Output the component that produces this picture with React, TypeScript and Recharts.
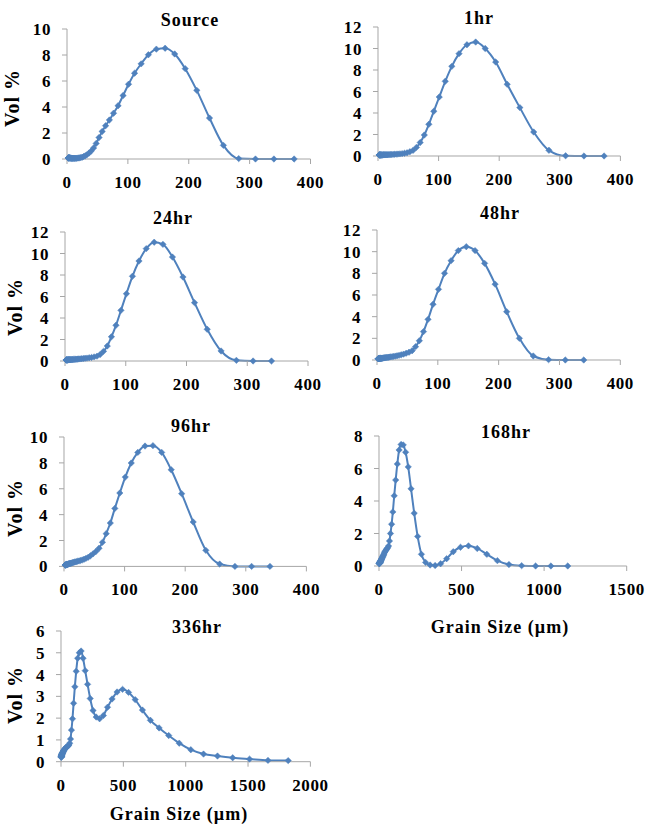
import React from 'react'
import { LineChart, Line, XAxis, YAxis } from 'recharts'

// Coulter LS size classes (µm), shared by every sample
const grainSizes = [
  2.011, 2.208, 2.423, 2.66, 2.92, 3.206, 3.519, 3.863, 4.241, 4.656,
  5.111, 5.611, 6.159, 6.761, 7.422, 8.148, 8.944, 9.819, 10.78, 11.83,
  12.99, 14.26, 15.65, 17.18, 18.86, 20.71, 22.73, 24.95, 27.39, 30.07,
  33.01, 36.24, 39.78, 43.67, 47.94, 52.63, 57.77, 63.42, 69.62, 76.43,
  83.9, 92.1, 101.1, 111.0, 121.8, 133.7, 146.8, 161.2, 176.9, 194.2,
  213.2, 234.1, 256.9, 282.1, 309.6, 339.9, 373.1, 409.6, 449.7, 493.6,
  541.9, 594.9, 653.0, 716.9, 786.9, 863.9, 948.3, 1041, 1143, 1255,
  1377, 1512, 1660, 1822,
]

// Vol % per size class
const sourceVol = [
  0.08, 0.08, 0.09, 0.09, 0.09, 0.09, 0.09, 0.09, 0.08, 0.08,
  0.08, 0.07, 0.07, 0.07, 0.06, 0.06, 0.06, 0.06, 0.06, 0.06,
  0.06, 0.06, 0.06, 0.07, 0.08, 0.09, 0.11, 0.14, 0.19, 0.25,
  0.34, 0.46, 0.62, 0.85, 1.2, 1.65, 2.12, 2.56, 3.0, 3.52,
  4.1, 4.88, 5.75, 6.6, 7.32, 8.02, 8.45, 8.52, 8.08, 6.95,
  5.28, 3.15, 1.05, 0.03, 0, 0, 0,
]

const hr1Vol = [
  0.1, 0.1, 0.1, 0.1, 0.1, 0.1, 0.1, 0.1, 0.1, 0.1,
  0.1, 0.1, 0.1, 0.1, 0.1, 0.1, 0.11, 0.11, 0.11, 0.11,
  0.12, 0.12, 0.12, 0.13, 0.13, 0.14, 0.14, 0.15, 0.16, 0.17,
  0.18, 0.2, 0.22, 0.25, 0.3, 0.4, 0.52, 0.8, 1.25, 1.95,
  2.95, 4.16, 5.49, 6.95, 8.34, 9.52, 10.35, 10.6, 10.0, 8.74,
  6.67, 4.5, 2.23, 0.53, 0.02, 0, 0,
]

const hr24Vol = [
  0.1, 0.1, 0.1, 0.1, 0.1, 0.1, 0.1, 0.1, 0.1, 0.1,
  0.11, 0.11, 0.11, 0.12, 0.12, 0.12, 0.13, 0.13, 0.13, 0.14,
  0.14, 0.15, 0.15, 0.16, 0.17, 0.18, 0.19, 0.2, 0.21, 0.23,
  0.25, 0.27, 0.3, 0.33, 0.38, 0.45, 0.6, 0.9, 1.4, 2.25,
  3.32, 4.71, 6.26, 7.88, 9.3, 10.45, 11.05, 10.85, 9.67, 7.81,
  5.43, 2.95, 0.93, 0.06, 0, 0,
]

const hr48Vol = [
  0.12, 0.12, 0.12, 0.12, 0.12, 0.13, 0.13, 0.13, 0.13, 0.14,
  0.14, 0.14, 0.15, 0.15, 0.16, 0.16, 0.17, 0.18, 0.19, 0.2,
  0.21, 0.22, 0.23, 0.24, 0.25, 0.27, 0.29, 0.31, 0.33, 0.36,
  0.39, 0.43, 0.48, 0.54, 0.62, 0.72, 0.86, 1.23, 1.78, 2.62,
  3.75, 5.14, 6.52, 8.0, 9.17, 10.1, 10.46, 10.1, 8.92, 7.0,
  4.46, 2.0, 0.37, 0.03, 0, 0,
]

const hr96Vol = [
  0.1, 0.1, 0.11, 0.11, 0.12, 0.12, 0.13, 0.13, 0.14, 0.15,
  0.15, 0.16, 0.17, 0.18, 0.19, 0.2, 0.21, 0.22, 0.24, 0.25,
  0.27, 0.29, 0.31, 0.33, 0.35, 0.37, 0.4, 0.43, 0.46, 0.5,
  0.55, 0.62, 0.7, 0.82, 0.97, 1.15, 1.4, 1.86, 2.53, 3.35,
  4.48, 5.67, 6.9, 7.99, 8.81, 9.3, 9.33, 8.81, 7.47, 5.62,
  3.43, 1.24, 0.18, 0, 0, 0,
]

const hr168Vol = [
  0.14, 0.15, 0.15, 0.16, 0.16, 0.17, 0.17, 0.18, 0.19, 0.2,
  0.21, 0.22, 0.23, 0.24, 0.26, 0.27, 0.29, 0.31, 0.33, 0.35,
  0.37, 0.4, 0.43, 0.46, 0.5, 0.54, 0.58, 0.63, 0.68, 0.74,
  0.82, 0.88, 0.94, 1.0, 1.06, 1.12, 1.23, 1.54, 2.0, 2.57,
  3.33, 4.32, 5.29, 6.28, 7.14, 7.48, 7.45, 7.0, 6.1, 4.75,
  3.25, 1.82, 0.72, 0.22, 0.06, 0.03, 0.14, 0.45, 0.88, 1.15,
  1.24, 1.08, 0.72, 0.33, 0.09, 0.02, 0, 0, 0,
]

const hr336Vol = [
  0.2, 0.21, 0.22, 0.23, 0.24, 0.25, 0.26, 0.27, 0.28, 0.29,
  0.3, 0.31, 0.32, 0.33, 0.34, 0.35, 0.36, 0.38, 0.39, 0.4,
  0.42, 0.43, 0.45, 0.46, 0.48, 0.5, 0.52, 0.54, 0.56, 0.58,
  0.6, 0.62, 0.64, 0.66, 0.68, 0.7, 0.73, 0.77, 0.85, 1.04,
  1.45, 1.97, 2.68, 3.44, 4.15, 4.75, 5.0, 5.08, 4.75, 4.18,
  3.55, 2.9, 2.35, 2.05, 1.97, 2.12, 2.5, 2.88, 3.2, 3.32,
  3.18, 2.85, 2.37, 1.9, 1.55, 1.2, 0.85, 0.55, 0.35, 0.26,
  0.18, 0.12, 0.06, 0.05,
]

const ticks400 = [0, 100, 200, 300, 400]
const ticks1500 = [0, 500, 1000, 1500]
const ticks2000 = [0, 500, 1000, 1500, 2000]
const ticks10 = [0, 2, 4, 6, 8, 10]
const ticks12 = [0, 2, 4, 6, 8, 10, 12]
const ticks8 = [0, 2, 4, 6, 8]
const ticks6 = [0, 1, 2, 3, 4, 5, 6]

const BLUE = '#4F81BD'
const AXIS = '#a6a6a6'
const SERIF = "'Liberation Serif', 'Times New Roman', serif"

const Y_W = 64
const TOP = 10
const RIGHT = 24
const X_H = 40

const tickStyle = { fill: '#000', fontSize: 17, fontWeight: 700, fontFamily: SERIF, letterSpacing: 0.6 }

type PanelCfg = {
  title: string
  values: number[]
  xMax: number
  xTicks: number[]
  yMax: number
  yTicks: number[]
  // plot box in page pixels
  x0: number
  xR: number
  yT: number
  yB: number
  titleAt: [number, number]
  volAt?: [number, number]
  grainAt?: [number, number]
}

const panels: PanelCfg[] = [
  { title: 'Source', values: sourceVol, xMax: 400, xTicks: ticks400, yMax: 10, yTicks: ticks10,
    x0: 66.5, xR: 310, yT: 29.3, yB: 159.3, titleAt: [190, 20], volAt: [12, 98] },
  { title: '1hr', values: hr1Vol, xMax: 400, xTicks: ticks400, yMax: 12, yTicks: ticks12,
    x0: 378.3, xR: 620.7, yT: 26.7, yB: 155.7, titleAt: [479, 18] },
  { title: '24hr', values: hr24Vol, xMax: 400, xTicks: ticks400, yMax: 12, yTicks: ticks12,
    x0: 65.3, xR: 308.3, yT: 231.7, yB: 360.7, titleAt: [173, 218], volAt: [15, 307] },
  { title: '48hr', values: hr48Vol, xMax: 400, xTicks: ticks400, yMax: 12, yTicks: ticks12,
    x0: 376.7, xR: 620, yT: 230, yB: 360, titleAt: [500, 213] },
  { title: '96hr', values: hr96Vol, xMax: 400, xTicks: ticks400, yMax: 10, yTicks: ticks10,
    x0: 64.3, xR: 306.7, yT: 437.3, yB: 566.7, titleAt: [191, 426], volAt: [15, 508] },
  { title: '168hr', values: hr168Vol, xMax: 1500, xTicks: ticks1500, yMax: 8, yTicks: ticks8,
    x0: 379, xR: 626.7, yT: 435.7, yB: 565.7, titleAt: [506, 432], grainAt: [500, 627] },
  { title: '336hr', values: hr336Vol, xMax: 2000, xTicks: ticks2000, yMax: 6, yTicks: ticks6,
    x0: 61.3, xR: 310.7, yT: 631, yB: 761.7, titleAt: [197, 627], volAt: [15, 695], grainAt: [179, 814] },
]

function Diamond(props: any) {
  const { cx, cy, index } = props
  if (cx == null || cy == null) return <g key={index} />
  const r = 3.2
  return (
    <polygon
      key={index}
      points={`${cx},${cy - r} ${cx + r},${cy} ${cx},${cy + r} ${cx - r},${cy}`}
      fill={BLUE}
      stroke={BLUE}
      strokeWidth={0.5}
    />
  )
}

function Caption({ at, text, size, rotate }: { at: [number, number]; text: string; size: number; rotate?: boolean }) {
  return (
    <div
      style={{
        position: 'absolute',
        left: at[0],
        top: at[1],
        transform: `translate(-50%, -50%)${rotate ? ' rotate(-90deg)' : ''}`,
        whiteSpace: 'nowrap',
        fontFamily: SERIF,
        fontWeight: 700,
        fontSize: size,
        lineHeight: 1,
        letterSpacing: 1,
        color: '#000',
      }}
    >
      {text}
    </div>
  )
}

function Panel({ cfg }: { cfg: PanelCfg }) {
  const plotW = cfg.xR - cfg.x0
  const plotH = cfg.yB - cfg.yT
  const data = cfg.values.map((v, i) => ({ size: grainSizes[i], vol: v }))
  return (
    <>
      <div style={{ position: 'absolute', left: cfg.x0 - Y_W, top: cfg.yT - TOP }}>
        <LineChart
          width={Y_W + plotW + RIGHT}
          height={TOP + plotH + X_H}
          data={data}
          margin={{ top: TOP, right: RIGHT, bottom: 0, left: 0 }}
        >
          <XAxis
            type="number"
            dataKey="size"
            domain={[0, cfg.xMax]}
            ticks={cfg.xTicks}
            interval={0}
            height={X_H}
            stroke={AXIS}
            tickSize={5}
            tickMargin={12}
            tick={tickStyle}
          />
          <YAxis
            type="number"
            domain={[0, cfg.yMax]}
            ticks={cfg.yTicks}
            interval={0}
            width={Y_W}
            stroke={AXIS}
            tickSize={5}
            tickMargin={11}
            tick={tickStyle}
          />
          <Line
            dataKey="vol"
            type="monotone"
            stroke={BLUE}
            strokeWidth={2}
            dot={Diamond}
            activeDot={false}
            isAnimationActive={false}
          />
        </LineChart>
      </div>
      <Caption at={cfg.titleAt} text={cfg.title} size={18} />
      {cfg.volAt && <Caption at={cfg.volAt} text="Vol %" size={20} rotate />}
      {cfg.grainAt && <Caption at={cfg.grainAt} text="Grain Size (µm)" size={18} />}
    </>
  )
}

export default function App() {
  return (
    <div style={{ position: 'absolute', left: 0, top: 0, width: 648, height: 825, background: '#fff', overflow: 'hidden' }}>
      {panels.map((p) => (
        <Panel key={p.title} cfg={p} />
      ))}
    </div>
  )
}
